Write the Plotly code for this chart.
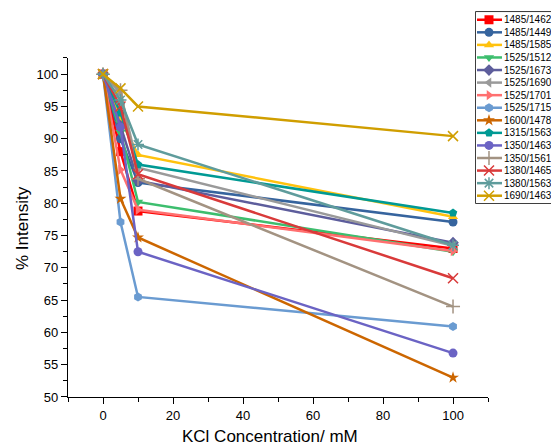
import plotly.graph_objects as go

# KCl concentration (mM)
conc = [0, 5, 10, 100]

# series names, read top to bottom from the legend
names = [
    "1485/1462", "1485/1449", "1485/1585", "1525/1512", "1525/1673",
    "1525/1690", "1525/1701", "1525/1715", "1600/1478", "1315/1563",
    "1350/1463", "1350/1561", "1380/1465", "1380/1563", "1690/1463",
]

# % intensity at each concentration
s1485_1462 = [100, 88.0, 78.8, 73.0]
s1485_1449 = [100, 90.0, 83.2, 77.1]
s1485_1585 = [100, 93.0, 87.5, 77.9]
s1525_1512 = [100, 91.0, 80.2, 72.5]
s1525_1673 = [100, 92.0, 83.5, 73.9]
s1525_1690 = [100, 97.0, 85.5, 73.4]
s1525_1701 = [100, 85.2, 79.0, 72.6]
s1525_1715 = [100, 77.1, 65.5, 60.9]
s1600_1478 = [100, 80.7, 74.7, 53.0]
s1315_1563 = [100, 94.0, 86.0, 78.5]
s1350_1463 = [100, 91.8, 72.5, 56.8]
s1350_1561 = [100, 97.5, 83.8, 64.0]
s1380_1465 = [100, 95.0, 84.5, 68.4]
s1380_1563 = [100, 96.0, 89.1, 73.5]
s1690_1463 = [100, 97.8, 95.0, 90.4]

values = [
    s1485_1462, s1485_1449, s1485_1585, s1525_1512, s1525_1673,
    s1525_1690, s1525_1701, s1525_1715, s1600_1478, s1315_1563,
    s1350_1463, s1350_1561, s1380_1465, s1380_1563, s1690_1463,
]

colors = [
    "#FF0000", "#36649E", "#FFC20E", "#3DBE6E", "#5D5D9C",
    "#9A9A9A", "#FF7070", "#6A9BD1", "#CC6600", "#009A94",
    "#6B63C4", "#A39382", "#D93A3A", "#5F9C9C", "#D09E00",
]
symbols = [
    "square", "circle", "triangle-up", "triangle-down", "diamond",
    "triangle-left", "triangle-right", "hexagon", "star", "pentagon",
    "circle", "cross-thin", "x-thin", "asterisk", "x-thin",
]


def marker_for(sym, col):
    if sym.endswith("-thin") or sym == "asterisk":
        return dict(symbol=sym, size=10, color=col,
                    line=dict(color=col, width=1.5))
    return dict(symbol=sym, size=9, color=col, line=dict(width=0))


fig = go.Figure()

for name, ys, col, sym in zip(names, values, colors, symbols):
    fig.add_trace(go.Scatter(
        x=conc, y=ys, name=name, mode="lines+markers",
        line=dict(color=col, width=2.5),
        marker=marker_for(sym, col),
        showlegend=False,
    ))

# hand-made legend on its own small axes (plotly's legend rows are too tall)
for i, (name, col, sym) in enumerate(zip(names, colors, symbols)):
    row = i + 1
    fig.add_trace(go.Scatter(
        x=[1, 13, 26], y=[row, row, row], mode="lines",
        line=dict(color=col, width=2.5),
        xaxis="x2", yaxis="y2", showlegend=False, hoverinfo="skip",
    ))
    fig.add_trace(go.Scatter(
        x=[13], y=[row], mode="markers", marker=marker_for(sym, col),
        xaxis="x2", yaxis="y2", showlegend=False, hoverinfo="skip",
    ))
    fig.add_annotation(
        x=26, y=row, xref="x2", yref="y2", text=name, showarrow=False,
        xanchor="left", yanchor="middle",
        font=dict(size=10, color="black"),
    )

fig.add_shape(
    type="rect", xref="paper", yref="paper",
    x0=0.8447, x1=1.02, y0=0.4949, y1=0.982,
    line=dict(color="black", width=1.5), fillcolor="white", layer="below",
)

# axis titles as annotations so they sit where the reference has them
fig.add_annotation(
    x=0.4182, y=-0.1301, xref="paper", yref="paper",
    text="KCl Concentration/ mM", showarrow=False,
    xanchor="center", yanchor="bottom", font=dict(size=17),
)
fig.add_annotation(
    x=-0.0953, y=0.431, xref="paper", yref="paper",
    text="% Intensity", showarrow=False, textangle=-90,
    xanchor="center", yanchor="middle", font=dict(size=17),
)

fig.update_layout(
    width=551, height=448,
    margin=dict(l=68, r=0, t=5, b=51),
    plot_bgcolor="white", paper_bgcolor="white",
    font=dict(family="Liberation Sans, Arial, sans-serif", color="black"),
    xaxis=dict(
        domain=[0, 0.8696], range=[-10, 110], automargin=False,
        tickvals=[0, 20, 40, 60, 80, 100],
        ticks="outside", ticklen=6, tickwidth=1.3, tickcolor="black",
        minor=dict(dtick=10, tick0=0, ticks="outside", ticklen=4,
                   tickwidth=1.3, tickcolor="black"),
        showline=True, linecolor="black", linewidth=1.3,
        showgrid=False, zeroline=False,
        tickfont=dict(size=13),
    ),
    yaxis=dict(
        domain=[0, 0.8648], range=[50, 102.5], automargin=False,
        dtick=5, tick0=50,
        ticks="outside", ticklen=6, tickwidth=1.3, tickcolor="black",
        minor=dict(dtick=2.5, tick0=50, ticks="outside", ticklen=4,
                   tickwidth=1.3, tickcolor="black"),
        showline=True, linecolor="black", linewidth=1.3,
        showgrid=False, zeroline=False,
        tickfont=dict(size=13),
    ),
    xaxis2=dict(
        domain=[0.8447, 1.0], range=[0, 75], anchor="y2",
        visible=False, fixedrange=True,
    ),
    yaxis2=dict(
        domain=[0.4949, 0.982], range=[15.58, 0.387], anchor="x2",
        visible=False, fixedrange=True,
    ),
)

# the page's default 8px body margin would shift the whole figure
fig.write_html("out.html", config={"displayModeBar": False},
               post_script="document.body.style.margin='0';")
